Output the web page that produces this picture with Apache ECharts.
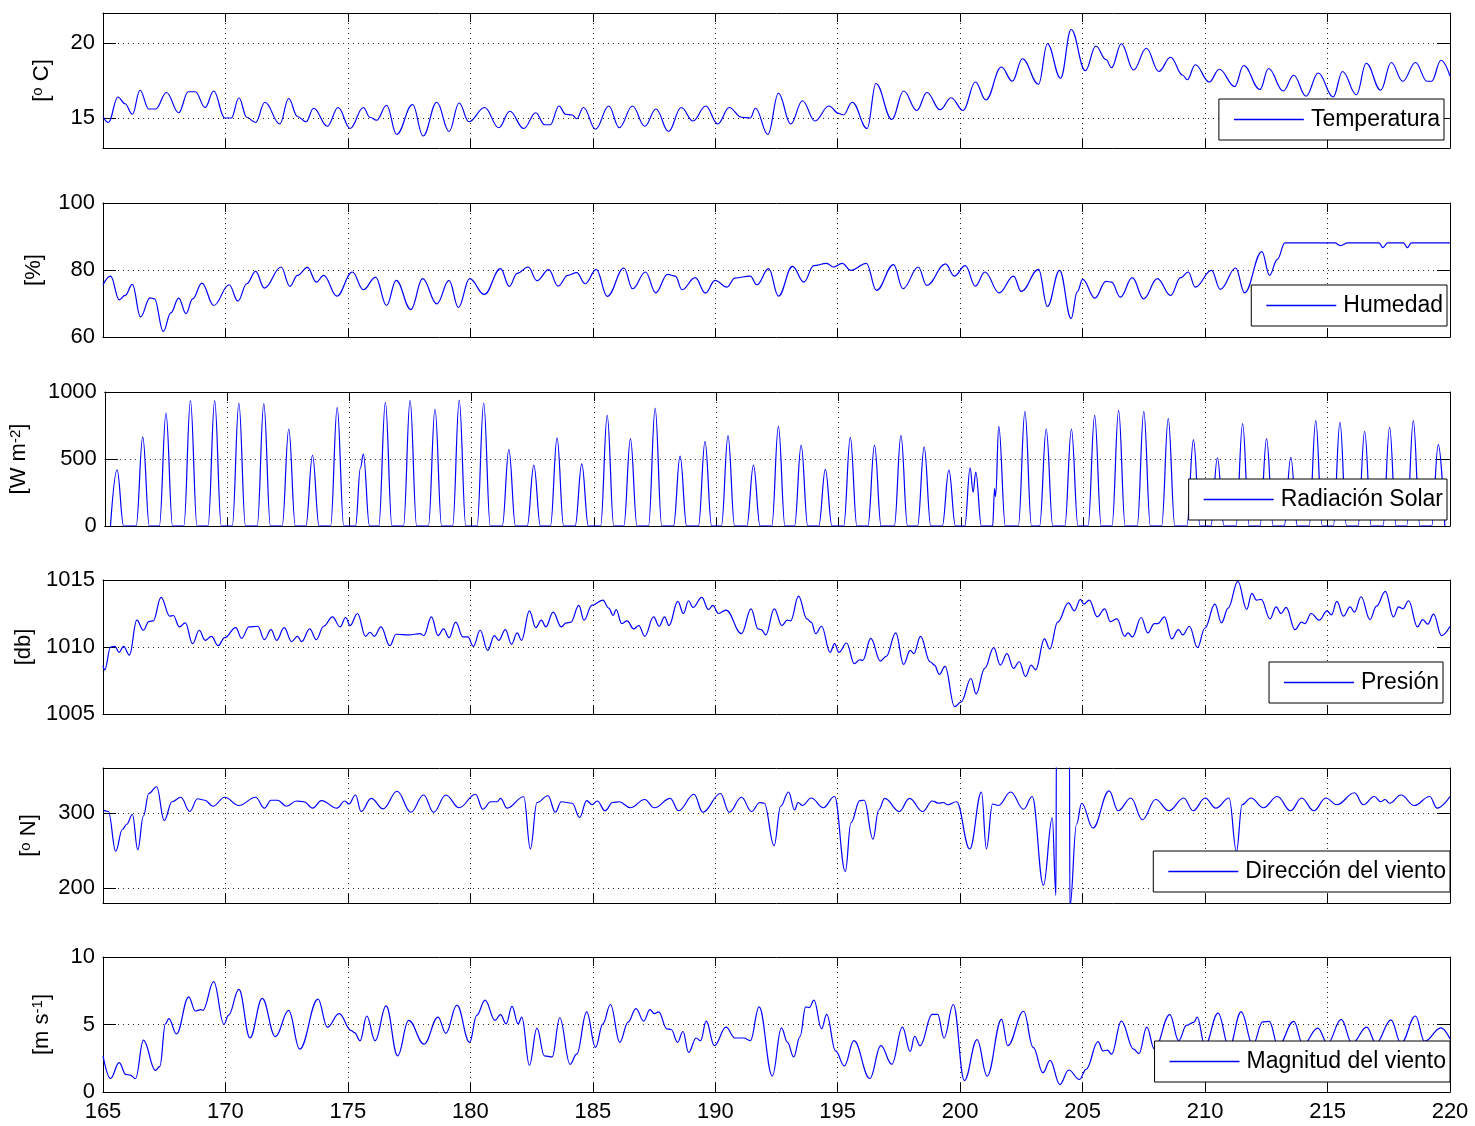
<!DOCTYPE html>
<html>
<head>
<meta charset="utf-8">
<script src="https://cdn.jsdelivr.net/npm/echarts@6/dist/echarts.min.js"></script>
<style>
  html, body { margin: 0; padding: 0; background: #fff; }
  #chart { width: 1475px; height: 1126px; }
</style>
</head>
<body>
<div id="chart"></div>
<script>
// day of year, value
const temperatura = [
  [165.00,15.1],[165.22,14.7],[165.61,16.4],[165.90,15.95],[166.20,15.25],[166.51,16.85],[166.87,15.6],[167.15,15.6],
  [167.59,16.7],[168.09,15.35],[168.48,16.75],[168.77,16.75],[169.17,15.7],[169.52,16.8],[169.97,15.0],[170.24,15.0],
  [170.55,16.35],[170.87,15.05],[171.23,14.7],[171.61,16.05],[172.22,14.6],[172.58,16.3],[172.94,15.1],[173.29,14.75],
  [173.60,15.65],[174.16,14.45],[174.60,15.7],[175.09,14.3],[175.63,15.7],[175.90,15.05],[176.17,14.85],[176.58,15.85],
  [176.99,13.9],[177.64,15.9],[178.07,13.8],[178.63,16.05],[179.13,14.1],[179.54,16.0],[179.94,14.75],[180.58,15.7],
  [181.16,14.35],[181.61,15.45],[182.18,14.3],[182.67,15.35],[183.03,14.55],[183.26,14.55],[183.62,15.8],[183.89,15.25],
  [184.16,15.2],[184.34,14.95],[184.62,15.7],[185.11,14.25],[185.65,15.8],[186.08,14.35],[186.62,15.8],[187.12,14.45],
  [187.58,15.6],[188.09,14.1],[188.61,15.7],[189.09,14.8],[189.61,15.8],[190.10,14.6],[190.57,15.7],[191.07,15.05],
  [191.43,15.0],[191.64,15.65],[192.15,13.9],[192.58,16.65],[193.08,14.6],[193.56,16.15],[194.07,14.8],[194.64,15.8],
  [195.05,15.3],[195.23,15.2],[195.59,16.05],[196.20,14.3],[196.56,17.3],[197.21,14.9],[197.69,16.8],[198.23,15.5],
  [198.64,16.7],[199.18,15.55],[199.63,16.35],[200.12,15.5],[200.62,17.4],[201.05,16.2],[201.68,18.4],[202.13,17.45],
  [202.54,18.95],[203.20,17.25],[203.56,19.95],[204.10,17.65],[204.53,20.9],[205.11,18.15],[205.54,19.8],[205.95,18.9],
  [206.18,18.35],[206.58,19.95],[207.08,18.2],[207.60,19.65],[208.11,18.1],[208.59,19.05],[209.09,17.85],[209.27,17.55],
  [209.60,18.55],[210.17,17.4],[210.58,18.25],[211.21,17.1],[211.57,18.5],[212.24,16.9],[212.59,18.3],[213.19,16.8],
  [213.62,17.85],[214.12,16.45],[214.62,18.0],[215.23,16.4],[215.61,18.1],[216.18,16.55],[216.58,18.65],[217.17,16.85],
  [217.60,18.7],[218.07,17.45],[218.59,18.7],[219.06,17.45],[219.25,17.45],[219.63,18.85],[220.00,17.8]
];

const humedad = [
  [165.00,75.6],[165.31,78.2],[165.66,71.1],[165.90,72.4],[166.20,75.7],[166.53,66.0],[166.92,71.7],[167.10,71.4],
  [167.46,61.7],[167.77,67.2],[168.09,71.6],[168.39,67.0],[168.66,71.4],[169.04,76.1],[169.52,69.4],[170.15,75.6],
  [170.51,70.7],[170.87,75.9],[171.23,79.6],[171.59,74.6],[172.27,80.9],[172.63,75.1],[172.94,78.4],[173.35,80.8],
  [173.71,76.4],[174.01,78.4],[174.55,72.2],[175.18,79.4],[175.63,74.1],[176.13,77.9],[176.58,69.4],[176.97,76.9],
  [177.57,68.2],[178.05,77.4],[178.63,69.9],[179.13,76.9],[179.51,68.8],[179.97,77.4],[180.57,72.7],[181.23,80.4],
  [181.59,75.1],[181.91,79.0],[182.36,80.9],[182.72,76.8],[183.20,80.1],[183.58,75.2],[183.98,78.4],[184.34,79.2],
  [184.69,75.9],[185.14,80.2],[185.59,72.1],[186.27,80.6],[186.62,74.4],[187.15,79.4],[187.57,73.2],[188.05,78.7],
  [188.37,78.2],[188.64,74.1],[189.18,77.7],[189.60,73.1],[189.99,76.9],[190.48,74.9],[190.80,77.6],[191.43,78.2],
  [191.70,75.6],[192.18,80.4],[192.58,72.2],[193.15,81.1],[193.62,76.4],[194.02,81.3],[194.55,82.0],[194.82,80.9],
  [195.18,82.0],[195.54,79.9],[196.17,82.0],[196.58,73.9],[197.28,81.6],[197.66,74.4],[198.29,80.9],[198.63,75.4],
  [199.40,81.8],[199.76,78.2],[200.21,81.3],[200.62,75.2],[201.01,79.4],[201.59,73.2],[202.18,78.2],[202.49,73.6],
  [203.20,80.2],[203.56,69.1],[204.06,79.9],[204.53,65.5],[204.78,73.5],[205.00,77.2],[205.50,71.6],[205.95,76.6],
  [206.18,76.4],[206.54,71.9],[207.03,77.7],[207.49,71.4],[208.05,77.4],[208.59,72.4],[209.00,77.7],[209.31,79.4],
  [209.60,74.9],[210.26,79.9],[210.62,74.2],[211.25,80.6],[211.61,73.2],[212.32,85.5],[212.63,78.4],[212.95,83.2],
  [213.26,88.1],[215.30,88.1],[215.52,87.3],[215.83,88.1],[217.10,88.1],[217.26,86.7],[217.45,88.1],[218.10,88.1],
  [218.26,86.7],[218.42,88.1],[220.00,88.1]
];

const radiacion = [
  [165.23,0],[165.50,419],[165.77,0],  [166.28,0],[166.55,665],[166.82,0],  [167.23,0],[167.50,843],[167.77,0],
  [168.23,0],[168.50,935],[168.77,0],  [169.22,0],[169.49,935],[169.76,0],  [170.21,0],[170.48,918],[170.75,0],
  [171.23,0],[171.50,913],[171.77,0],  [172.25,0],[172.52,724],[172.79,0],  [173.22,0],[173.49,528],[173.76,0],
  [174.23,0],[174.50,885],[174.77,0],  [175.25,0],[175.45,434],[175.57,536],[175.82,0],  [176.20,0],[176.47,922],[176.74,0],
  [177.21,0],[177.48,937],[177.75,0],  [178.23,0],[178.50,873],[178.77,0],  [179.22,0],[179.49,940],[179.76,0],
  [180.22,0],[180.49,918],[180.76,0],  [181.25,0],[181.52,570],[181.79,0],  [182.27,0],[182.54,454],[182.81,0],
  [183.22,0],[183.49,657],[183.76,0],  [184.23,0],[184.50,464],[184.77,0],  [185.27,0],[185.54,826],[185.81,0],
  [186.22,0],[186.49,652],[186.76,0],  [187.23,0],[187.50,880],[187.77,0],  [188.25,0],[188.52,521],[188.79,0],
  [189.27,0],[189.54,632],[189.81,0],  [190.21,0],[190.48,675],[190.75,0],  [191.25,0],[191.52,454],[191.79,0],
  [192.27,0],[192.54,744],[192.81,0],  [193.20,0],[193.47,603],[193.74,0],  [194.19,0],[194.46,422],[194.73,0],
  [195.21,0],[195.48,662],[195.75,0],  [196.20,0],[196.47,603],[196.74,0],  [197.28,0],[197.55,677],[197.82,0],
  [198.23,0],[198.50,590],[198.77,0],  [199.24,0],[199.51,417],[199.78,0],
  [200.16,0],[200.38,434],[200.50,253],[200.61,402],[200.84,0],
  [201.30,0],[201.38,280],[201.42,220],[201.55,744],[201.82,0],
  [202.35,0],[202.62,856],[202.89,0],  [203.22,0],[203.49,724],[203.76,0],  [204.25,0],[204.52,724],[204.79,0],
  [205.20,0],[205.47,826],[205.74,0],  [206.18,0],[206.45,863],[206.72,0],  [207.21,0],[207.48,856],[207.75,0],
  [208.21,0],[208.48,801],[208.75,0],  [209.24,0],[209.51,645],[209.78,0],  [210.22,0],[210.49,508],[210.76,0],
  [211.25,0],[211.52,764],[211.79,0],  [212.23,0],[212.50,652],[212.77,0],  [213.22,0],[213.49,513],[213.76,0],
  [214.24,0],[214.51,786],[214.78,0],  [215.23,0],[215.50,774],[215.77,0],  [216.24,0],[216.51,707],[216.78,0],
  [217.26,0],[217.53,737],[217.80,0],  [218.23,0],[218.50,786],[218.77,0],  [219.25,0],[219.52,608],[219.79,0]
];

const presion = [
  [165.00,1008.6],[165.07,1008.3],[165.31,1010.0],[165.48,1010.05],[165.66,1009.6],[165.84,1010.05],[166.08,1009.4],
  [166.38,1012.0],[166.65,1011.25],[166.87,1011.9],[167.05,1011.95],[167.37,1013.7],[167.73,1012.3],[167.87,1012.35],
  [168.12,1011.5],[168.36,1011.8],[168.66,1010.25],[168.93,1011.25],[169.17,1010.5],[169.43,1010.8],[169.70,1010.1],
  [169.97,1010.7],[170.42,1011.45],[170.66,1010.65],[170.96,1011.5],[171.32,1011.55],[171.59,1010.55],[171.86,1011.3],
  [172.09,1010.5],[172.40,1011.45],[172.70,1010.4],[172.94,1010.8],[173.11,1010.4],[173.44,1011.35],[173.71,1010.55],
  [174.01,1011.55],[174.37,1012.25],[174.68,1011.5],[174.91,1012.2],[175.09,1011.6],[175.39,1012.5],[175.72,1010.8],
  [175.90,1011.1],[176.08,1010.8],[176.35,1011.5],[176.71,1010.1],[176.97,1010.95],[177.50,1010.9],[177.95,1011.0],
  [178.10,1010.85],[178.41,1012.25],[178.68,1010.85],[178.91,1011.35],[179.13,1010.7],[179.40,1011.85],[179.70,1010.75],
  [179.90,1010.75],[180.12,1010.05],[180.40,1011.25],[180.71,1009.75],[180.98,1010.85],[181.16,1010.5],[181.43,1011.3],
  [181.68,1010.2],[181.91,1011.05],[182.09,1010.5],[182.41,1012.7],[182.67,1011.45],[182.90,1012.0],[183.08,1011.5],
  [183.38,1012.6],[183.71,1011.5],[183.92,1011.8],[184.10,1011.85],[184.43,1013.1],[184.64,1012.0],[184.96,1013.1],
  [185.41,1013.5],[185.65,1012.9],[185.83,1012.35],[185.95,1012.8],[186.18,1011.75],[186.40,1011.95],[186.67,1011.35],
  [186.88,1011.6],[187.12,1010.8],[187.48,1012.25],[187.71,1011.55],[187.93,1012.25],[188.11,1011.6],[188.47,1013.4],
  [188.70,1012.5],[188.91,1013.45],[189.09,1012.95],[189.45,1013.7],[189.72,1012.8],[189.90,1013.1],[190.13,1012.5],
  [190.44,1012.75],[191.07,1011.0],[191.46,1012.85],[191.75,1011.35],[191.88,1011.3],[192.06,1010.9],[192.41,1012.85],
  [192.72,1011.6],[192.94,1012.0],[193.08,1011.95],[193.40,1013.8],[193.74,1012.1],[193.92,1011.85],[194.10,1011.0],
  [194.34,1011.55],[194.69,1009.6],[194.87,1010.25],[195.05,1009.6],[195.36,1010.3],[195.68,1008.75],[195.90,1009.05],
  [196.02,1009.0],[196.35,1010.65],[196.74,1008.95],[196.98,1009.3],[197.37,1011.05],[197.69,1008.7],[197.96,1009.75],
  [198.11,1009.5],[198.38,1010.8],[198.77,1008.9],[198.95,1008.65],[199.15,1007.95],[199.38,1008.55],[199.77,1005.55],
  [200.04,1005.9],[200.44,1007.65],[200.65,1006.5],[201.00,1008.4],[201.37,1009.95],[201.64,1008.65],[201.91,1009.5],
  [202.18,1008.4],[202.41,1008.9],[202.67,1007.8],[202.90,1008.65],[203.08,1008.3],[203.44,1010.6],[203.66,1009.85],
  [203.98,1011.85],[204.42,1013.3],[204.66,1012.7],[204.91,1013.55],[205.05,1013.2],[205.27,1013.5],[205.60,1012.25],
  [205.90,1012.85],[206.13,1011.9],[206.40,1012.1],[206.72,1010.8],[206.85,1011.05],[207.03,1010.75],[207.39,1012.2],
  [207.66,1011.05],[207.93,1011.75],[208.07,1011.75],[208.34,1012.25],[208.64,1010.6],[208.91,1011.3],[209.09,1010.9],
  [209.36,1011.55],[209.69,1009.95],[209.99,1011.4],[210.40,1013.2],[210.67,1011.8],[210.94,1012.9],[211.34,1014.9],
  [211.70,1012.8],[211.91,1014.0],[212.10,1013.5],[212.29,1013.55],[212.65,1012.1],[212.90,1013.0],[213.10,1012.5],
  [213.31,1012.95],[213.67,1011.3],[213.94,1011.85],[214.08,1011.75],[214.33,1012.5],[214.66,1012.0],[214.98,1012.7],
  [215.16,1012.4],[215.38,1013.4],[215.65,1012.3],[215.92,1013.0],[216.10,1012.6],[216.37,1013.75],[216.73,1012.05],
  [217.00,1013.05],[217.36,1014.15],[217.69,1012.25],[217.90,1013.0],[218.08,1012.85],[218.31,1013.45],[218.67,1011.5],
  [218.89,1012.05],[219.09,1011.7],[219.33,1012.45],[219.65,1010.85],[220.00,1011.55]
];

const direccion = [
  [165.00,304],[165.22,302],[165.52,249],[165.79,278],[165.97,285],[166.20,298],[166.42,251],[166.65,296],[166.87,326],
  [167.19,335],[167.50,290],[167.82,315],[168.18,321],[168.54,302],[168.86,319],[169.16,317],[169.49,309],[169.97,321],
  [170.55,310],[171.23,321],[171.59,306.5],[171.86,317],[172.13,317],[172.49,309],[172.90,316],[173.20,315],[173.56,306.5],
  [173.92,316.5],[174.55,306.5],[174.87,316],[175.04,312],[175.31,324],[175.54,302],[175.95,319.5],[176.44,305.5],
  [177.01,329],[177.57,301],[178.09,324],[178.50,301],[179.00,324],[179.54,307],[180.21,325],[180.51,305],[180.83,315],
  [181.10,315],[181.23,319.5],[181.50,306.5],[182.18,321.7],[182.45,252],[182.72,314],[183.17,323],[183.47,301],
  [183.71,315],[184.16,313],[184.46,294],[184.75,316.5],[184.97,311],[185.18,316],[185.50,303],[185.81,314],[186.08,315],
  [186.53,307],[187.12,318],[187.51,307],[188.16,319.5],[188.50,303],[189.13,325],[189.49,301],[190.21,326],[190.57,301],
  [191.07,321],[191.48,302],[191.82,314],[192.00,313],[192.40,256.5],[192.67,309],[192.99,328],[193.24,304],[193.38,314],
  [193.56,310],[193.92,320],[194.41,307],[194.87,322],[195.31,222],[195.54,287],[195.90,316.5],[196.08,317],[196.44,265],
  [196.67,304],[196.92,319.5],[197.51,302],[197.93,319.5],[198.47,302],[198.86,316],[199.13,313],[199.31,314],[199.49,311],
  [199.85,315],[200.39,252],[200.87,328],[201.07,252],[201.32,312],[201.56,310],[202.06,328],[202.59,305],[202.94,322],
  [203.40,203.5],[203.76,293.5],[203.91,190],[203.93,400],[204.46,400],[204.48,175],[204.75,285],[204.96,313],[205.42,280],
  [206.08,329.5],[206.45,303],[206.97,320],[207.44,291],[207.98,318],[208.52,303],[209.13,320],[209.51,303],[210.00,320],
  [210.44,306.5],[210.98,320],[211.28,248.7],[211.51,311],[211.87,320],[212.38,307],[212.95,322],[213.49,303],[213.94,320],
  [214.44,303],[214.93,320],[215.38,311],[216.10,327],[216.46,311],[216.91,322],[217.17,315],[217.35,318],[217.53,313],
  [218.00,324],[218.54,310],[219.17,322],[219.47,306.5],[220.00,322]
];

const magnitud = [
  [165.00,2.68],[165.31,1.0],[165.66,2.18],[165.93,1.3],[166.11,1.25],[166.33,1.0],[166.65,3.85],[167.14,1.6],[167.32,1.9],
  [167.55,5.05],[167.69,5.43],[168.00,4.3],[168.50,7.05],[168.77,6.0],[168.99,6.1],[169.08,6.05],[169.52,8.18],[169.94,5.0],
  [170.12,5.68],[170.55,7.6],[171.00,4.0],[171.50,6.93],[172.04,4.1],[172.58,6.05],[173.03,3.18],[173.78,6.88],[174.16,4.8],
  [174.64,5.8],[175.14,4.55],[175.27,4.4],[175.50,3.8],[175.77,5.63],[176.11,3.8],[176.56,6.38],[177.03,2.68],[177.48,5.3],
  [178.11,3.55],[178.68,5.55],[179.00,4.35],[179.45,6.43],[179.97,3.68],[180.26,5.68],[180.60,6.8],[181.01,5.3],[181.23,5.73],
  [181.46,5.05],[181.70,6.35],[181.95,5.05],[182.10,5.55],[182.41,1.98],[182.72,4.73],[183.02,2.68],[183.34,2.6],[183.65,5.5],
  [184.07,2.05],[184.34,2.8],[184.75,5.93],[185.11,3.3],[185.41,5.05],[185.72,6.48],[186.10,3.68],[186.44,5.18],[186.76,6.18],
  [187.08,5.25],[187.33,6.1],[187.51,5.8],[187.69,5.93],[188.02,4.68],[188.20,4.63],[188.46,3.68],[188.68,4.48],[188.91,2.93],
  [189.22,4.0],[189.40,3.8],[189.63,5.25],[189.96,3.43],[190.44,4.8],[190.80,4.0],[191.16,4.0],[191.43,3.8],[191.79,6.3],
  [192.33,1.18],[192.70,4.75],[192.95,3.68],[193.20,2.6],[193.46,4.1],[193.69,6.3],[193.84,6.25],[194.03,6.8],[194.34,4.68],
  [194.55,5.75],[194.91,3.05],[195.27,1.93],[195.66,3.8],[196.31,1.0],[196.76,3.43],[197.21,2.05],[197.64,4.8],[197.96,3.0],
  [198.14,4.13],[198.36,3.43],[198.86,5.75],[199.08,5.75],[199.34,4.0],[199.72,6.48],[200.17,0.85],[200.69,3.88],[201.10,1.18],
  [201.69,5.38],[201.94,3.43],[202.59,5.98],[202.98,3.3],[203.38,1.43],[203.67,2.35],[204.07,0.55],[204.43,1.63],[204.87,0.93],
  [205.14,1.68],[205.63,3.73],[205.83,3.05],[206.01,3.1],[206.18,2.8],[206.58,5.25],[207.08,3.18],[207.30,2.85],[207.62,4.8],
  [207.93,3.18],[208.56,5.73],[208.92,3.8],[209.24,4.93],[209.55,5.18],[209.68,5.55],[209.99,3.43],[210.53,5.85],[210.98,3.3],
  [211.47,5.93],[211.95,3.5],[212.35,5.2],[212.62,5.23],[212.98,3.4],[213.62,5.23],[214.00,3.5],[214.60,4.73],[215.00,3.6],
  [215.56,5.38],[216.00,3.6],[216.60,4.8],[216.98,3.6],[217.59,5.35],[218.00,3.6],[218.59,5.63],[218.96,3.75],[219.63,4.75],
  [220.00,3.93]
];

const nombres = ['Temperatura', 'Humedad', 'Radiación Solar', 'Presión', 'Dirección del viento', 'Magnitud del viento'];
const unidades = ['[{s|o} C]', '[%]', '[W m{s|-2}]', '[db]', '[{s|o} N]', '[m s{s|-1}]'];
const yRangos = [[13, 22], [60, 100], [0, 1000], [1005, 1015], [180, 360], [0, 10]];
const yTicks = [[15, 20], [60, 80, 100], [0, 500, 1000], [1005, 1010, 1015], [200, 300], [0, 5, 10]];
const xTicks = [165, 170, 175, 180, 185, 190, 195, 200, 205, 210, 215, 220];
const series = [temperatura, humedad, radiacion, presion, direccion, magnitud];

// layout (pixels)
const panels = [[13, 135], [203, 134], [392, 134], [580, 134], [768, 135], [957, 135]];
const nameGaps = [45, 58, 68, 68, 56, 45];
const legendPos = [[31, 99], [28, 285], [28, 479], [32, 662], [25, 851], [25, 1041]];

const FONT = '"Liberation Sans", Arial, Helvetica, sans-serif';
const dotted = { color: '#222', width: 1, type: [1, 4] };

const chart = echarts.init(document.getElementById('chart'), null, { renderer: 'canvas' });

const grid = [], xAxis = [], yAxis = [], legend = [], seriesOpt = [];

panels.forEach(([top, h], i) => {
    grid.push({ left: 103, right: 25, top: top, height: h, containLabel: false });

    const xBase = {
        gridIndex: i, type: 'value', min: 165, max: 220,
        axisLine: { show: true, onZero: false, lineStyle: { color: '#000', width: 1 } },
        axisTick: { show: true, inside: true, length: 9, customValues: xTicks, lineStyle: { color: '#000' } },
    };
    xAxis.push(Object.assign({}, xBase, {
        position: 'bottom',
        axisLabel: { show: i === 5, customValues: xTicks, fontSize: 22, color: '#000', fontFamily: FONT, margin: 9,
                     formatter: v => String(v) },
        splitLine: { show: true, lineStyle: dotted },
    }));
    xAxis.push(Object.assign({}, xBase, {
        position: 'top',
        axisLabel: { show: false },
        splitLine: { show: false },
    }));

    const yBase = {
        gridIndex: i, type: 'value', min: yRangos[i][0], max: yRangos[i][1],
        axisLine: { show: true, onZero: false, lineStyle: { color: '#000', width: 1 } },
        axisTick: { show: true, inside: true, length: 13, customValues: yTicks[i], lineStyle: { color: '#000' } },
    };
    yAxis.push(Object.assign({}, yBase, {
        position: 'left',
        axisLabel: { show: true, customValues: yTicks[i], fontSize: 22, color: '#000', fontFamily: FONT, margin: 8,
                     formatter: v => String(v) },
        splitLine: { show: true, lineStyle: dotted },
        name: unidades[i],
        nameLocation: 'middle',
        nameGap: nameGaps[i],
        nameTextStyle: {
            fontSize: 22, color: '#000', fontFamily: FONT,
            rich: { s: { fontSize: 15, fontFamily: FONT, color: '#000', verticalAlign: 'top', lineHeight: 15, padding: [0, 0, 14, 0] } }
        },
    }));
    yAxis.push(Object.assign({}, yBase, {
        position: 'right',
        axisLabel: { show: false },
        splitLine: { show: false },
    }));

    legend.push({
        data: [nombres[i]],
        right: legendPos[i][0], top: legendPos[i][1],
        icon: 'rect',
        itemWidth: 70, itemHeight: 1.3, itemGap: 0,
        padding: [9, 4, 9, 15],
        borderColor: '#000', borderWidth: 1, borderRadius: 0,
        backgroundColor: '#fff',
        selectedMode: false,
        textStyle: { fontSize: 23, color: '#000', fontFamily: FONT, padding: [0, 0, 0, 2] },
    });

    seriesOpt.push({
        name: nombres[i], type: 'line',
        xAxisIndex: 2 * i, yAxisIndex: 2 * i,
        data: series[i],
        smooth: 0.4, smoothMonotone: 'x',
        symbol: 'none', clip: true,
        lineStyle: { color: '#0000ff', width: 1.2 },
        itemStyle: { color: '#0000ff' },
    });
});

chart.setOption({
    animation: false,
    backgroundColor: '#fff',
    grid, xAxis, yAxis, legend,
    series: seriesOpt,
});
</script>
</body>
</html>
